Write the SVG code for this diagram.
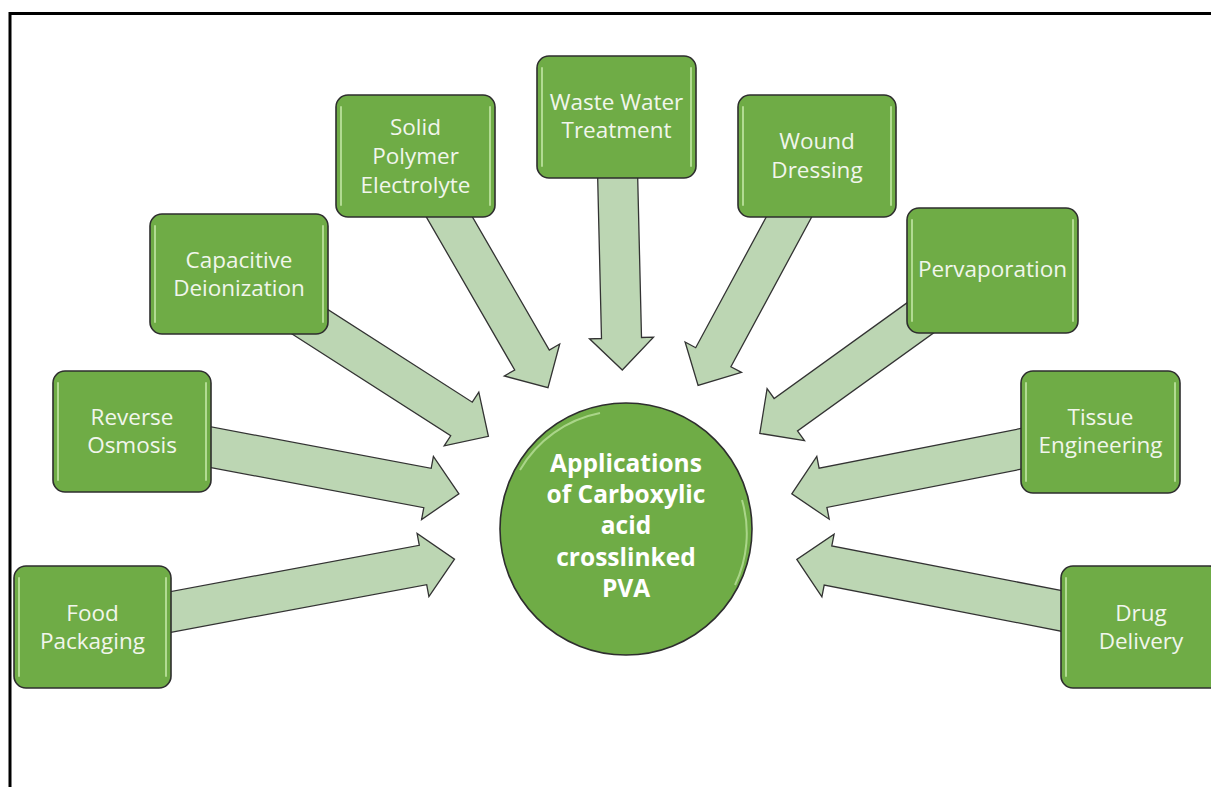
<svg xmlns="http://www.w3.org/2000/svg" width="1211" height="787" viewBox="0 0 1211 787">
<style>
.frame{fill:none;stroke:#000;stroke-width:3}
.box{fill:#6fac46;stroke:#2e2e2e;stroke-width:1.6}
.hl{stroke:#b9e09a;stroke-width:2;stroke-linecap:round;fill:none;opacity:0.9}
.arrow{fill:#bcd6b3;stroke:#333;stroke-width:1.3;stroke-linejoin:miter}
.lbl{font-family:"Open Sans","Liberation Sans",sans-serif;font-size:22.5px;fill:#f1f6ec;text-anchor:middle}
.ctr{font-family:"Open Sans","Liberation Sans",sans-serif;font-size:24.5px;font-weight:bold;fill:#fff;text-anchor:middle}
.circ{fill:#6fac46;stroke:#2e2e2e;stroke-width:1.6}
.rim{fill:none;stroke:#b9e09a;stroke-width:2;opacity:0.8}
</style>
<rect width="1211" height="787" fill="#fff"/>
<rect class="frame" x="10" y="13.5" width="1230" height="800"/>

<g id="connectors">
  <polygon class="arrow" points="168.2,632.8 426.7,584.7 428.9,596.5 454.5,559.1 417.1,533.5 419.3,545.3 160.8,593.4"/>
  <polygon class="arrow" points="197.7,465.1 423.8,507.7 421.6,519.5 458.9,493.9 433.4,456.5 431.2,468.3 205.1,425.7"/>
  <polygon class="arrow" points="290.9,333.2 450.7,435.8 444.2,445.9 488.4,436.3 478.8,392.1 472.3,402.2 312.5,299.6"/>
  <polygon class="arrow" points="422.2,209.8 514.7,370 504.3,376 548,387.7 559.7,344 549.3,350 456.8,189.8"/>
  <polygon class="arrow" points="597.5,170.5 601.5,338.5 589.5,338.8 622.3,370 653.5,337.2 641.5,337.5 637.5,169.5"/>
  <polygon class="arrow" points="781.2,189.3 695.7,347.7 685.1,342 698.1,385.4 741.5,372.4 730.9,366.7 816.4,208.3"/>
  <polygon class="arrow" points="920.1,293.4 774.1,398.5 767.1,388.7 759.8,433.4 804.5,440.7 797.5,430.9 943.5,325.8"/>
  <polygon class="arrow" points="1030,426.7 819.1,468.2 816.8,456.4 791.8,493.9 829.2,519.2 826.9,507.4 1037.8,465.9"/>
  <polygon class="arrow" points="1072.3,592.7 831.8,545.9 834.1,534.1 796.8,559.4 821.9,596.9 824.2,585.1 1064.7,631.9"/>
</g>

<g id="center">
  <circle class="circ" cx="626" cy="529" r="126"/>
  <path class="rim" d="M 520,470 A 119 119 0 0 1 600,413"/>
  <path class="rim" d="M 742,500 A 119 119 0 0 1 735,585"/>
  <text class="ctr" x="626" y="472">Applications</text>
  <text class="ctr" x="626" y="503">of Carboxylic</text>
  <text class="ctr" x="626" y="534">acid</text>
  <text class="ctr" x="626" y="566">crosslinked</text>
  <text class="ctr" x="626" y="597">PVA</text>
</g>

<g id="food-packaging">
  <rect class="box" x="14" y="566" width="157" height="122" rx="12"/>
  <line class="hl" x1="19" y1="578" x2="19" y2="676"/><line class="hl" x1="166" y1="578" x2="166" y2="676"/>
  <text class="lbl" x="92.5" y="621">Food</text>
  <text class="lbl" x="92.5" y="649">Packaging</text>
</g>
<g id="reverse-osmosis">
  <rect class="box" x="53" y="371" width="158" height="121" rx="12"/>
  <line class="hl" x1="58" y1="383" x2="58" y2="480"/><line class="hl" x1="206" y1="383" x2="206" y2="480"/>
  <text class="lbl" x="132" y="425">Reverse</text>
  <text class="lbl" x="132" y="453">Osmosis</text>
</g>
<g id="capacitive-deionization">
  <rect class="box" x="150" y="214" width="178" height="120" rx="12"/>
  <line class="hl" x1="155" y1="226" x2="155" y2="322"/><line class="hl" x1="323" y1="226" x2="323" y2="322"/>
  <text class="lbl" x="239" y="268">Capacitive</text>
  <text class="lbl" x="239" y="296">Deionization</text>
</g>
<g id="solid-polymer-electrolyte">
  <rect class="box" x="336" y="95" width="159" height="122" rx="12"/>
  <line class="hl" x1="341" y1="107" x2="341" y2="205"/><line class="hl" x1="490" y1="107" x2="490" y2="205"/>
  <text class="lbl" x="415.5" y="135">Solid</text>
  <text class="lbl" x="415.5" y="164">Polymer</text>
  <text class="lbl" x="415.5" y="193">Electrolyte</text>
</g>
<g id="waste-water-treatment">
  <rect class="box" x="537" y="56" width="159" height="122" rx="12"/>
  <line class="hl" x1="542" y1="68" x2="542" y2="166"/><line class="hl" x1="691" y1="68" x2="691" y2="166"/>
  <text class="lbl" x="616.5" y="110">Waste Water</text>
  <text class="lbl" x="616.5" y="138">Treatment</text>
</g>
<g id="wound-dressing">
  <rect class="box" x="738" y="95" width="158" height="122" rx="12"/>
  <line class="hl" x1="743" y1="107" x2="743" y2="205"/><line class="hl" x1="891" y1="107" x2="891" y2="205"/>
  <text class="lbl" x="817" y="149">Wound</text>
  <text class="lbl" x="817" y="178">Dressing</text>
</g>
<g id="pervaporation">
  <rect class="box" x="907" y="208" width="171" height="125" rx="12"/>
  <line class="hl" x1="912" y1="220" x2="912" y2="321"/><line class="hl" x1="1073" y1="220" x2="1073" y2="321"/>
  <text class="lbl" x="992.5" y="277">Pervaporation</text>
</g>
<g id="tissue-engineering">
  <rect class="box" x="1021" y="371" width="159" height="122" rx="12"/>
  <line class="hl" x1="1026" y1="383" x2="1026" y2="481"/><line class="hl" x1="1175" y1="383" x2="1175" y2="481"/>
  <text class="lbl" x="1100.5" y="425">Tissue</text>
  <text class="lbl" x="1100.5" y="453">Engineering</text>
</g>
<g id="drug-delivery">
  <rect class="box" x="1061" y="566" width="160" height="122" rx="12"/>
  <line class="hl" x1="1066" y1="578" x2="1066" y2="676"/>
  <text class="lbl" x="1141" y="621">Drug</text>
  <text class="lbl" x="1141" y="649">Delivery</text>
</g>
</svg>
